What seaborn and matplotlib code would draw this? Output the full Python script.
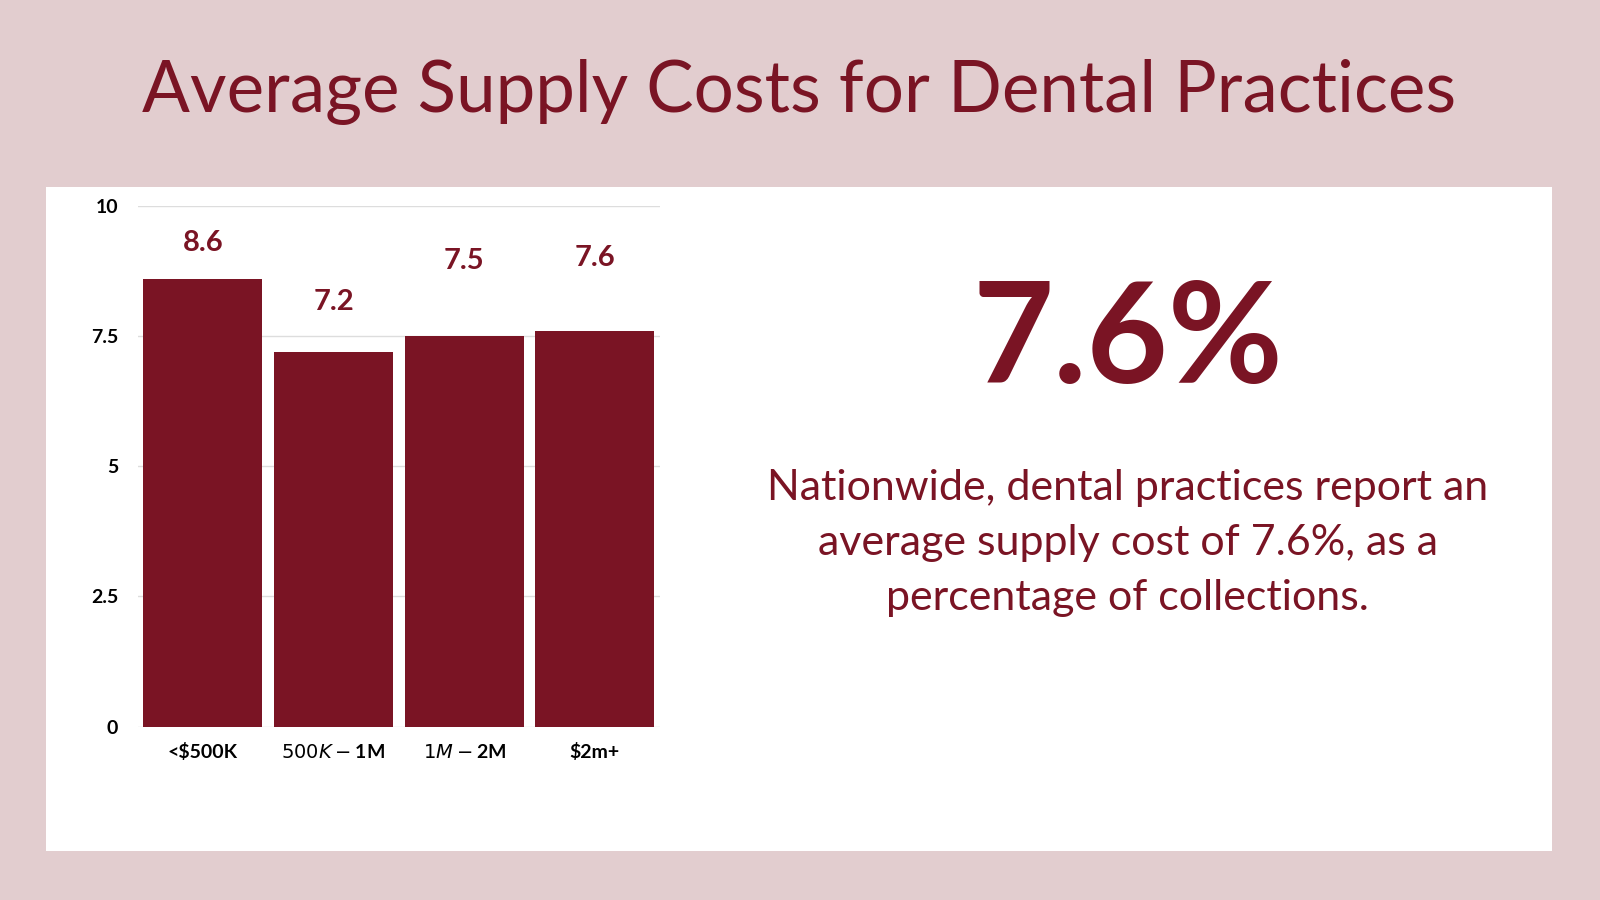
import matplotlib
matplotlib.use("Agg")
import matplotlib.pyplot as plt
import seaborn as sns
import pandas as pd
from matplotlib.patches import Rectangle

categories = ["<$500K", "$500K-$1M", "$1M-$2M", "$2m+"]
values = [8.6, 7.2, 7.5, 7.6]
yticks = [0, 2.5, 5, 7.5, 10]
ytick_labels = ["0", "2.5", "5", "7.5", "10"]

RED = "#7A1424"
df = pd.DataFrame({"cat": categories, "val": values})

fig = plt.figure(figsize=(16, 9), dpi=100)
fig.patch.set_facecolor("#E2CDCF")
fig.patches.append(Rectangle((0.0287, 0.054), 0.9413, 0.7385, transform=fig.transFigure,
                             facecolor="white", edgecolor="none", zorder=-5))

fig.text(0.4994, 0.898, "Average Supply Costs for Dental Practices", ha="center", va="center",
         fontsize=51, color=RED, family="Lato")

ax = fig.add_axes([0.086, 0.1927, 0.3266, 0.5783])
ax.set_zorder(5)
ax.set_facecolor("none")
sns.barplot(data=df, x="cat", y="val", color=RED, width=0.91, saturation=1, ax=ax, zorder=3)
ax.set_ylim(0, 10)
ax.set_xlim(-0.5, 3.5)
ax.set_yticks(yticks)
ax.set_yticklabels(ytick_labels)
ax.grid(axis="y", color="#DDDDDD", linewidth=1, zorder=0)
ax.set_axisbelow(True)
for s in ax.spines.values():
    s.set_visible(False)
ax.tick_params(length=0, labelsize=14)
for lbl in ax.get_xticklabels() + ax.get_yticklabels():
    lbl.set_fontweight("bold")
    lbl.set_family("Lato")
ax.tick_params(axis="y", pad=14)
ax.tick_params(axis="x", pad=12)
ax.set_xlabel("")
ax.set_ylabel("")
offsets = [0.7, 0.95, 1.45, 1.4]
for i, v in enumerate(values):
    ax.text(i, v + offsets[i], f"{v}", ha="center", va="center", fontsize=21,
            fontweight="bold", color=RED, family="Lato")

fig.text(0.7047, 0.62, "7.6%", ha="center", va="center", fontsize=101,
         fontweight="bold", color=RED, family="Lato")
para = ["Nationwide, dental practices report an",
        "average supply cost of 7.6%, as a",
        "percentage of collections."]
for k, line in enumerate(para):
    fig.text(0.7047, 1 - (478 + 54 * k) / 882, line, ha="center", va="center",
             fontsize=31, color=RED, family="Lato")

fig.savefig("out.png", dpi=100, facecolor=fig.get_facecolor())
